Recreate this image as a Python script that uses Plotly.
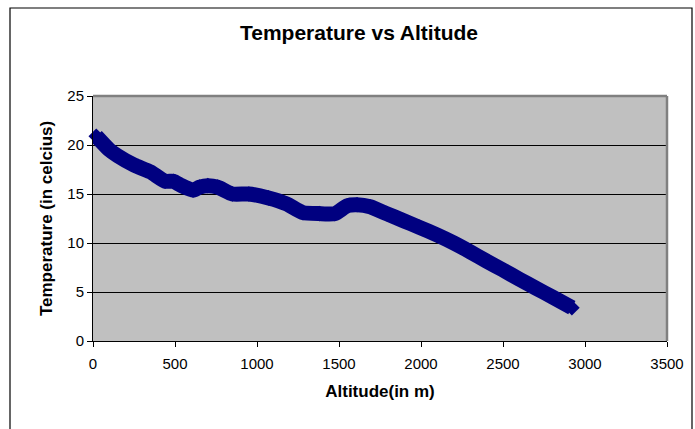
import plotly.graph_objects as go

# Data
altitude_m = [20, 100, 150, 250, 350, 440, 490, 540, 610, 650, 700, 760, 850, 950,
              1070, 1180, 1280, 1380, 1475, 1550, 1610, 1690, 1790, 1890, 1990,
              2100, 2200, 2300, 2400, 2500, 2600, 2700, 2800, 2920]
temperature_c = [20.9, 19.5, 18.9, 17.95, 17.25, 16.3, 16.3, 15.85, 15.4, 15.7, 15.85, 15.7,
                 15.0, 15.0, 14.6, 14.0, 13.1, 13.0, 13.0, 13.8, 13.9, 13.7, 13.0, 12.3, 11.6,
                 10.8, 10.0, 9.1, 8.15, 7.25, 6.3, 5.4, 4.5, 3.4]

x_ticks = [0, 500, 1000, 1500, 2000, 2500, 3000, 3500]
y_ticks = [0, 5, 10, 15, 20, 25]

W, H = 695, 429
L, R, T, B = 93, 28, 96, 88
pw, ph = W - L - R, H - T - B

def px(xp):
    return (xp - L) / pw

def py(yp):
    return (H - B - yp) / ph

FONT = "Liberation Sans, Arial, sans-serif"
NAVY = "#000080"

fig = go.Figure()
fig.add_trace(go.Scatter(
    x=altitude_m, y=temperature_c,
    mode="lines+markers",
    line=dict(color=NAVY, width=15, shape="spline", smoothing=0.5),
    marker=dict(symbol="diamond", size=12, color=NAVY),
    showlegend=False, cliponaxis=False,
))

fig.update_layout(
    width=W, height=H,
    margin=dict(l=L, r=R, t=T, b=B),
    paper_bgcolor="white",
    plot_bgcolor="#C0C0C0",
    font=dict(family=FONT, color="black", size=15),
    title=dict(text="<b>Temperature vs Altitude</b>", x=359 / W,
               xanchor="center", y=1 - 33 / H, yanchor="middle",
               font=dict(size=21, family=FONT)),
    xaxis=dict(range=[0, 3500], tickvals=x_ticks, ticks="outside", ticklen=5,
               tickcolor="black", showline=True, linecolor="black", linewidth=1,
               showgrid=False, zeroline=False, tickfont=dict(size=15),
               ticklabelstandoff=4,
               title=dict(text="<b>Altitude(in m)</b>", font=dict(size=17), standoff=14)),
    yaxis=dict(range=[0, 25], tickvals=y_ticks, ticks="outside", ticklen=5,
               tickcolor="black", showline=True, linecolor="black", linewidth=1,
               showgrid=True, gridcolor="black", gridwidth=1, zeroline=False,
               tickfont=dict(size=15),
               title=dict(text="<b>Temperature (in celcius)</b>", font=dict(size=17), standoff=10)),
    shapes=[
        # plot area top and right borders (gray)
        dict(type="line", xref="paper", yref="paper", x0=0, x1=1, y0=1, y1=1,
             line=dict(color="#808080", width=2.5)),
        dict(type="line", xref="paper", yref="paper", x0=1, x1=1, y0=0, y1=1,
             line=dict(color="#808080", width=2.5)),
        # outer chart border
        dict(type="rect", xref="paper", yref="paper", x0=px(10), x1=px(692),
             y0=py(440), y1=py(8), line=dict(color="black", width=1.2), layer="below"),
    ],
)

fig.write_html("out.html", config={"displayModeBar": False},
               post_script="document.body.style.margin='0';")
